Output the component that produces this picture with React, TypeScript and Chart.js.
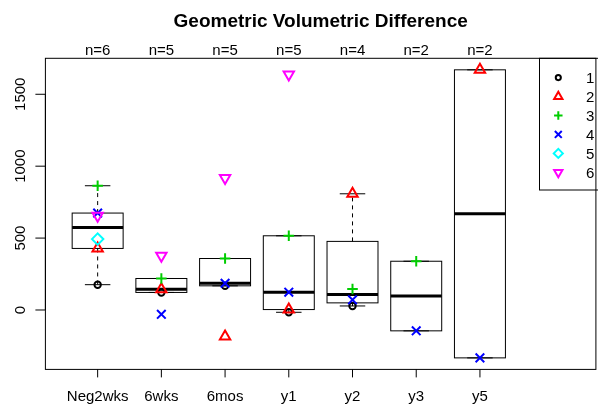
import React, { useEffect, useRef } from 'react';
import { Chart, registerables } from 'chart.js';

Chart.register(...registerables);

// ---------------- data ----------------
const categories = ['Neg2wks', '6wks', '6mos', 'y1', 'y2', 'y3', 'y5'];
const seriesNames = ['1', '2', '3', '4', '5', '6'];
const patient1 = [176, 122, 168, -16, 28, null, null];
const patient2 = [428, 145, -185, 3, 808, null, 1670];
const patient3 = [864, 219, 358, 516, 146, 339, null];
const patient4 = [674, -30, 186, 124, 71, -145, -333];
const patient5 = [493, null, null, null, null, null, null];
const patient6 = [655, 378, 918, 1638, null, null, null];
const yTickValues = [0, 500, 1000, 1500];
const chartTitle = 'Geometric Volumetric Difference';
const xLimits = [0.5, 8.5];

const allSeries = [patient1, patient2, patient3, patient4, patient5, patient6];

// ---------------- styles ----------------
const COLORS = ['#000000', '#FF0000', '#00CD00', '#0000FF', '#00FFFF', '#FF00FF'];
const SHAPES = ['circle', 'triangle', 'cross', 'crossRot', 'rectRot', 'triangle'];
const ROTATIONS = [0, 0, 0, 0, 0, 180];
const RADII = [3.2, 6, 5.3, 6.1, 5.7, 6];
const FONT_FAMILY = '"Liberation Sans", Arial, Helvetica, sans-serif';
const LABEL_FONT = `15px ${FONT_FAMILY}`;
const TITLE_FONT = `bold 19px ${FONT_FAMILY}`;
const CANVAS_W = 604;
const CANVAS_H = 407;

// ---------------- R-like box statistics ----------------
function fivenum(values: number[]): number[] {
  const x = [...values].sort((a, b) => a - b);
  const n = x.length;
  const n4 = Math.floor((n + 3) / 2) / 2;
  const d = [1, n4, (n + 1) / 2, n + 1 - n4, n];
  return d.map((di) => 0.5 * (x[Math.floor(di) - 1] + x[Math.ceil(di) - 1]));
}
function boxStats(values: number[]): number[] {
  const s = fivenum(values);
  const iqr = s[3] - s[1];
  const lo = s[1] - 1.5 * iqr;
  const hi = s[3] + 1.5 * iqr;
  const inside = values.filter((v) => v >= lo && v <= hi);
  if (inside.length < values.length) {
    s[0] = Math.min(...inside);
    s[4] = Math.max(...inside);
  }
  return s;
}

const groups: number[][] = categories.map((_, i) =>
  allSeries.map((s) => s[i]).filter((v) => v !== null) as number[]
);
const stats = groups.map(boxStats);

function extendRange(lo: number, hi: number): [number, number] {
  const d = (hi - lo) * 0.04;
  return [lo - d, hi + d];
}
const flatStats = stats.flat();
const yRange = extendRange(Math.min(...flatStats), Math.max(...flatStats));
const xRange = extendRange(xLimits[0], xLimits[1]);

// ---------------- drawing helpers ----------------
function text(
  ctx: CanvasRenderingContext2D,
  str: string,
  x: number,
  y: number,
  font: string,
  align: CanvasTextAlign,
  rotate = false
) {
  ctx.save();
  ctx.translate(x, y);
  if (rotate) ctx.rotate(-Math.PI / 2);
  ctx.font = font;
  ctx.textAlign = align;
  ctx.textBaseline = 'alphabetic';
  ctx.fillStyle = '#000';
  ctx.fillText(str, 0, 0);
  ctx.restore();
}

function line(ctx: CanvasRenderingContext2D, x1: number, y1: number, x2: number, y2: number) {
  ctx.beginPath();
  ctx.moveTo(x1, y1);
  ctx.lineTo(x2, y2);
  ctx.stroke();
}

function marker(
  ctx: CanvasRenderingContext2D,
  shape: string,
  x: number,
  y: number,
  r: number,
  rot: number,
  color: string
) {
  ctx.save();
  ctx.translate(x, y);
  ctx.rotate((rot * Math.PI) / 180);
  ctx.strokeStyle = color;
  ctx.lineWidth = 2;
  ctx.beginPath();
  if (shape === 'circle') {
    ctx.arc(0, 0, r, 0, Math.PI * 2);
  } else if (shape === 'triangle') {
    for (let k = 0; k < 3; k++) {
      const a = (k * 2 * Math.PI) / 3;
      const px = Math.sin(a) * r;
      const py = -Math.cos(a) * r;
      if (k === 0) ctx.moveTo(px, py);
      else ctx.lineTo(px, py);
    }
    ctx.closePath();
  } else if (shape === 'cross') {
    ctx.moveTo(-r, 0);
    ctx.lineTo(r, 0);
    ctx.moveTo(0, -r);
    ctx.lineTo(0, r);
  } else if (shape === 'crossRot') {
    const d = r * Math.SQRT1_2;
    ctx.moveTo(-d, -d);
    ctx.lineTo(d, d);
    ctx.moveTo(-d, d);
    ctx.lineTo(d, -d);
  } else if (shape === 'rectRot') {
    ctx.moveTo(-r, 0);
    ctx.lineTo(0, -r);
    ctx.lineTo(r, 0);
    ctx.lineTo(0, r);
    ctx.closePath();
  }
  ctx.stroke();
  ctx.restore();
}

const rBoxPlot = {
  id: 'rBoxPlot',
  beforeDatasetsDraw(chart: any) {
    const ctx: CanvasRenderingContext2D = chart.ctx;
    const xs = chart.scales.x;
    const ys = chart.scales.y;
    const ca = chart.chartArea;
    ctx.save();
    ctx.strokeStyle = '#000';
    ctx.lineWidth = 1;

    stats.forEach((s, i) => {
      const pos = i + 1;
      const xc = xs.getPixelForValue(pos);
      const xl = xs.getPixelForValue(pos - 0.4);
      const xr = xs.getPixelForValue(pos + 0.4);
      const sl = xs.getPixelForValue(pos - 0.2);
      const sr = xs.getPixelForValue(pos + 0.2);
      const py = s.map((v) => ys.getPixelForValue(v));
      ctx.lineWidth = 1;
      ctx.setLineDash([4, 4]);
      line(ctx, xc, py[1], xc, py[0]);
      line(ctx, xc, py[3], xc, py[4]);
      ctx.setLineDash([]);
      line(ctx, sl, py[0], sr, py[0]);
      line(ctx, sl, py[4], sr, py[4]);
      ctx.strokeRect(xl, py[3], xr - xl, py[1] - py[3]);
      ctx.lineWidth = 3;
      line(ctx, xl, py[2], xr, py[2]);
    });

    // frame
    ctx.lineWidth = 1;
    ctx.strokeRect(ca.left, ca.top, ca.right - ca.left, ca.bottom - ca.top);

    // y axis ticks + labels
    yTickValues.forEach((v) => {
      const y = ys.getPixelForValue(v);
      line(ctx, ca.left, y, ca.left - 10, y);
      text(ctx, String(v), 25, y, LABEL_FONT, 'center', true);
    });
    line(ctx, ca.left, ys.getPixelForValue(yTickValues[0]), ca.left, ys.getPixelForValue(yTickValues[yTickValues.length - 1]));

    // x axis ticks + labels + counts
    categories.forEach((c, i) => {
      const x = xs.getPixelForValue(i + 1);
      line(ctx, x, ca.bottom, x, ca.bottom + 8);
      text(ctx, c, x, 401, LABEL_FONT, 'center');
      text(ctx, `n=${groups[i].length}`, x, 55, LABEL_FONT, 'center');
    });

    // title
    text(ctx, chartTitle, (ca.left + ca.right) / 2, 27, TITLE_FONT, 'center');
    ctx.restore();
  },
  afterDraw(chart: any) {
    const ctx: CanvasRenderingContext2D = chart.ctx;
    const ca = chart.chartArea;
    ctx.save();
    ctx.strokeStyle = '#000';
    ctx.lineWidth = 1;
    const boxLeft = 539.5;
    const boxTop = ca.top;
    const boxBottom = 190;
    ctx.strokeRect(boxLeft, boxTop, ca.right + 20 - boxLeft, boxBottom - boxTop);
    seriesNames.forEach((name, k) => {
      const y = boxTop + 19.3 + k * 18.95;
      marker(ctx, SHAPES[k], 558.3, y, RADII[k] * 0.8, ROTATIONS[k], COLORS[k]);
      text(ctx, name, 586, y + 5.3, LABEL_FONT, 'left');
    });
    ctx.restore();
  },
};

export default function App() {
  const canvasRef = useRef<HTMLCanvasElement | null>(null);

  useEffect(() => {
    if (!canvasRef.current) return;
    const datasets = allSeries.map((series, k) => ({
      type: 'scatter' as const,
      label: seriesNames[k],
      data: series
        .map((v, i) => (v === null ? null : { x: i + 1, y: v }))
        .filter((p) => p !== null),
      pointStyle: SHAPES[k],
      pointRotation: ROTATIONS[k],
      pointRadius: RADII[k],
      pointHoverRadius: RADII[k],
      pointBorderWidth: 2,
      pointHoverBorderWidth: 2,
      pointBorderColor: COLORS[k],
      pointBackgroundColor: 'rgba(0,0,0,0)',
      showLine: false,
      order: seriesNames.length - k,
    }));

    const chart = new Chart(canvasRef.current, {
      type: 'scatter',
      data: { datasets } as any,
      options: {
        responsive: false,
        animation: false,
        devicePixelRatio: 1,
        events: [],
        layout: {
          padding: { left: 45.4, right: CANVAS_W - 602.7, top: 58.3, bottom: CANVAS_H - 369.4 },
        },
        scales: {
          x: { type: 'linear', min: xRange[0], max: xRange[1], display: false },
          y: { type: 'linear', min: yRange[0], max: yRange[1], display: false },
        },
        plugins: {
          legend: { display: false },
          tooltip: { enabled: false },
          title: { display: false },
        },
      },
      plugins: [rBoxPlot],
    });
    return () => chart.destroy();
  }, []);

  return (
    <div
      style={{
        position: 'fixed',
        left: 0,
        top: 0,
        width: 598,
        height: 407,
        overflow: 'hidden',
        background: '#ffffff',
      }}
    >
      <canvas
        ref={canvasRef}
        width={CANVAS_W}
        height={CANVAS_H}
        style={{ width: CANVAS_W, height: CANVAS_H, display: 'block' }}
      />
    </div>
  );
}
